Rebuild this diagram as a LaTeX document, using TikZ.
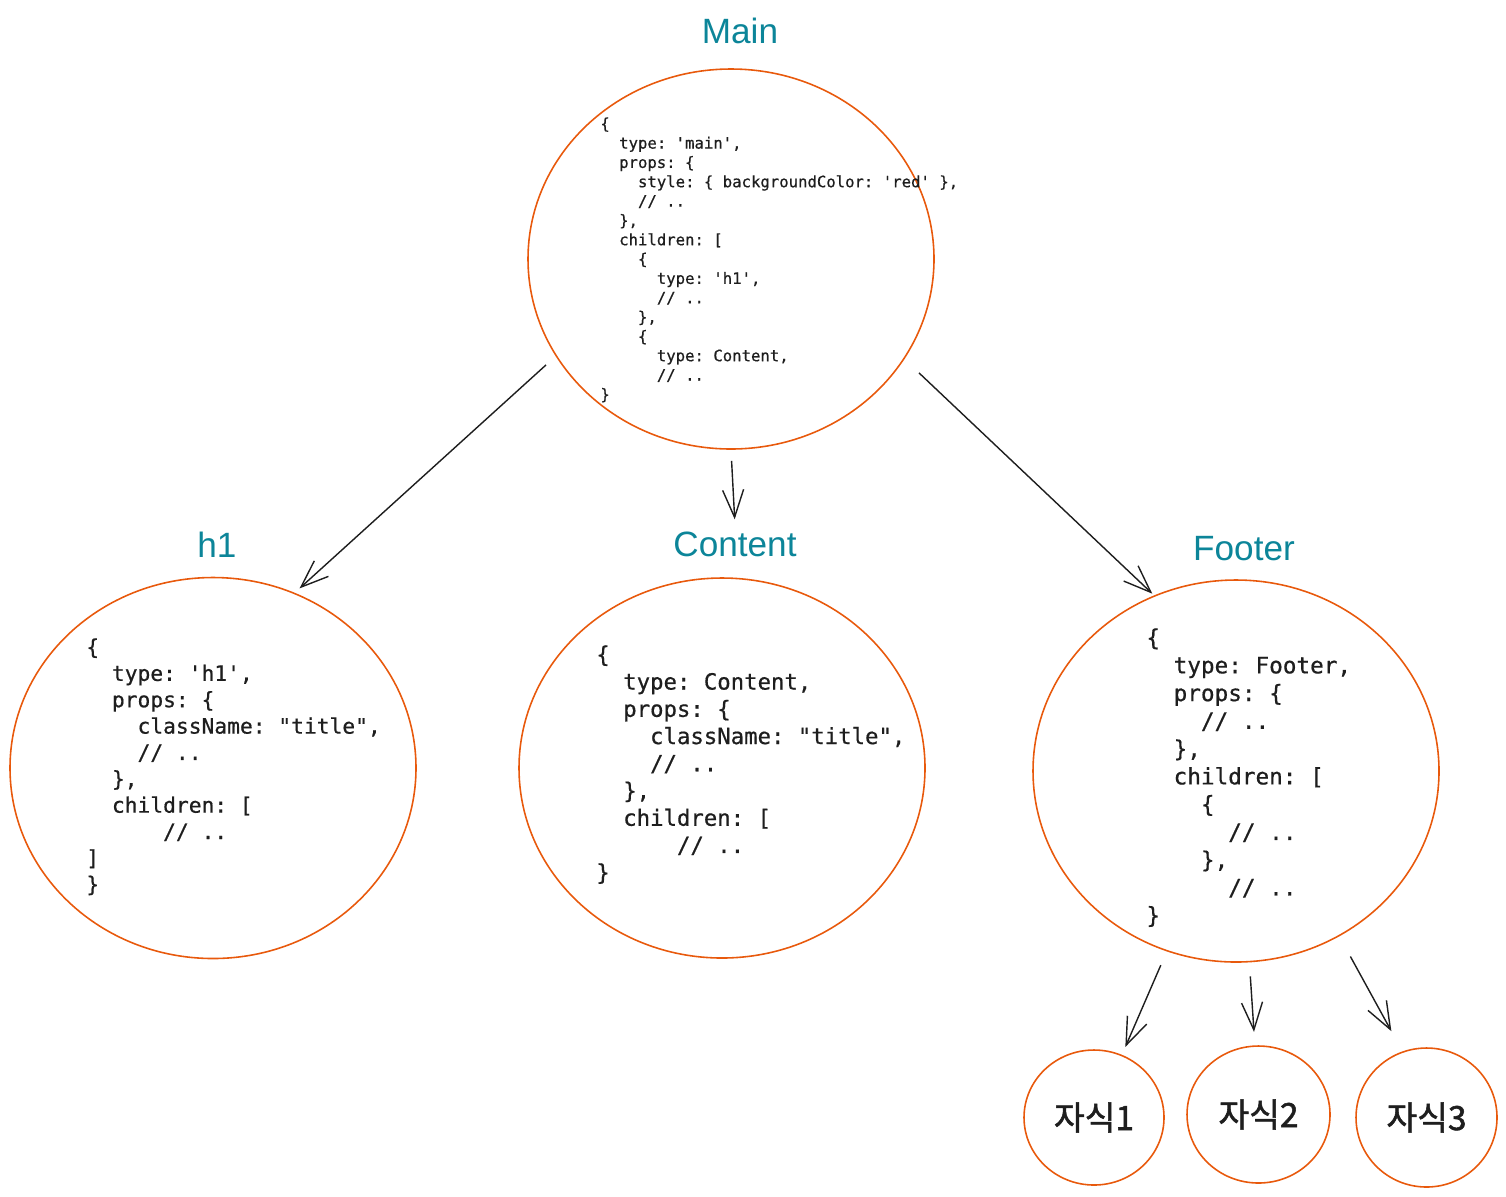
\documentclass[tikz,border=0pt]{standalone}
\usepackage{fontspec}
\setmonofont{DejaVu Sans Mono}[FakeBold=0.6]
\newfontfamily\headfont{Liberation Sans}
\newfontfamily\kofont{Noto Sans CJK KR}[FakeBold=1.6]
\usepackage{tikz}
\usetikzlibrary{shapes.geometric,arrows.meta,positioning}
\usepackage{xcolor}

\definecolor{penorange}{HTML}{E8590C}
\definecolor{penteal}{HTML}{0C8599}
\definecolor{penink}{HTML}{1E1E1E}

% one indent level = two mono chars
\newcommand{\lvl}{\hphantom{xx}}

\tikzset{
  bubble/.style={ellipse, draw=penorange, line width=0.9pt, inner sep=0pt},
  kidbubble/.style={bubble, minimum width=2.82cm, minimum height=2.74cm,
    font=\kofont\fontsize{19pt}{22pt}\selectfont, text=penink},
  heading/.style={anchor=base, text=penteal, font=\headfont\fontsize{20pt}{24pt}\selectfont},
  codeblock/.style args={#1/#2}{anchor=north west, inner sep=0pt, align=left,
    text=penink, font=\ttfamily\fontsize{#1pt}{#2pt}\selectfont},
  link/.style={draw=penink, line width=0.8pt,
    -{Straight Barb[length=0.55cm, width=0.42cm, line width=0.8pt]}}
}

\begin{document}
\begin{tikzpicture}
  \useasboundingbox (0,0) rectangle (30.12,-23.92);

  % Main
  \node[bubble, minimum width=8.12cm, minimum height=7.6cm] (main) at (14.62,-5.18) {};
  \node[heading] (mainlbl) at (14.8,-0.86) {Main};
  \node[codeblock=8.9/11] (maincode) at (12.0,-2.34) {%
\{\\
\lvl type: 'main',\\
\lvl props: \{\\
\lvl\lvl style: \{ backgroundColor: 'red' \},\\
\lvl\lvl // ..\\
\lvl \},\\
\lvl children: [\\
\lvl\lvl \{\\
\lvl\lvl\lvl type: 'h1',\\
\lvl\lvl\lvl // ..\\
\lvl\lvl \},\\
\lvl\lvl \{\\
\lvl\lvl\lvl type: Content,\\
\lvl\lvl\lvl // ..\\
\}};

  % h1
  \node[bubble, minimum width=8.12cm, minimum height=7.62cm] (h1) at (4.26,-15.36) {};
  \node[heading] (h1lbl) at (4.34,-11.14) {h1};
  \node[codeblock=12.1/15] (h1code) at (1.72,-12.76) {%
\{\\
\lvl type: 'h1',\\
\lvl props: \{\\
\lvl\lvl className: "title",\\
\lvl\lvl // ..\\
\lvl \},\\
\lvl children: [\\
\lvl\lvl\lvl // ..\\
]\\
\}};

  % Content
  \node[bubble, minimum width=8.12cm, minimum height=7.6cm] (content) at (14.44,-15.36) {};
  \node[heading] (contentlbl) at (14.7,-11.12) {Content};
  \node[codeblock=12.7/15.5] (contentcode) at (11.92,-12.9) {%
\{\\
\lvl type: Content,\\
\lvl props: \{\\
\lvl\lvl className: "title",\\
\lvl\lvl // ..\\
\lvl \},\\
\lvl children: [\\
\lvl\lvl\lvl // ..\\
\}};

  % Footer
  \node[bubble, minimum width=8.12cm, minimum height=7.64cm] (footer) at (24.72,-15.42) {};
  \node[heading] (footerlbl) at (24.88,-11.2) {Footer};
  \node[codeblock=12.9/15.8] (footercode) at (22.92,-12.56) {%
\{\\
\lvl type: Footer,\\
\lvl props: \{\\
\lvl\lvl // ..\\
\lvl \},\\
\lvl children: [\\
\lvl\lvl \{\\
\lvl\lvl\lvl // ..\\
\lvl\lvl \},\\
\lvl\lvl\lvl // ..\\
\}};

  % Footer children
  \node[kidbubble, minimum width=2.8cm, minimum height=2.7cm] (kid1) at (21.88,-22.35) {자식1};
  \node[kidbubble, minimum width=2.86cm] (kid2) at (25.17,-22.29) {자식2};
  \node[kidbubble, minimum height=2.78cm] (kid3) at (28.53,-22.35) {자식3};

  % Arrows
  \draw[link, shorten <=0.26cm, shorten >=0.13cm] (main.209) -- (h1.65);
  \draw[link, shorten <=0.22cm, shorten >=0.12cm] (main.south) -- (contentlbl.north);
  \draw[link, shorten <=0.4cm, shorten >=0.05cm] (main.330) -- (footer.115);
  \draw[link, shorten <=0.3cm, shorten >=0.17cm] (footer.249) -- (kid1.66);
  \draw[link, shorten <=0.28cm, shorten >=0.27cm] (footer.274.5) -- (kid2.93);
  \draw[link, shorten <=0.46cm, shorten >=0.46cm] (footer.302) -- (kid3.110);
\end{tikzpicture}
\end{document}
